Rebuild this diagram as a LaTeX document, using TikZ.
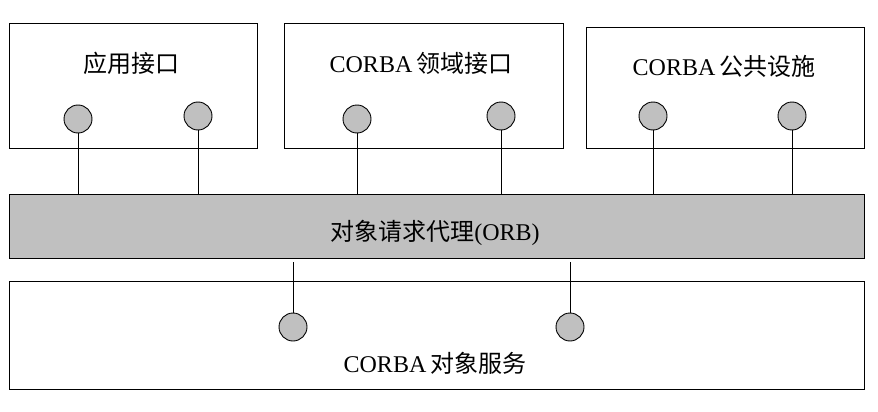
\documentclass[tikz,border=0pt]{standalone}
\usepackage{fontspec}
\setmainfont{Liberation Serif}
\newfontfamily\cjk{Noto Sans CJK SC}
\usetikzlibrary{calc}
\definecolor{portgray}{HTML}{C0C0C0}

\tikzset{
  layer/.style={draw, line width=1pt, inner sep=0pt},
  port/.style={circle, draw, line width=0.9pt, fill=portgray, inner sep=0pt, minimum size=28pt},
  caption/.style={font=\fontsize{24}{26}\selectfont, inner sep=0pt},
}

\begin{document}
\begin{tikzpicture}[x=1pt, y=-1pt]
    \useasboundingbox (0,0) rectangle (878,412);

    % upper boxes
    \node[layer, minimum width=248pt, minimum height=124pt] (app) at (133,86) {};
    \node[layer, minimum width=279pt, minimum height=124pt] (dom) at (423.5,86) {};
    \node[layer, minimum width=278pt, minimum height=120pt] (fac) at (725,88) {};
    \node[caption] (appt) at (131,63) {\cjk 应用接口};
    \node[caption] (domt) at (421,63) {CORBA\,{\cjk 领域接口}};
    \node[caption] (fact) at (724,66) {CORBA\,{\cjk 公共设施}};

    % bus and services
    \node[layer, fill=portgray, minimum width=855pt, minimum height=64pt] (orb) at (436.5,226) {};
    \node[caption] (orbt) at (435,233) {{\cjk 对象请求代理}(ORB)};
    \node[layer, minimum width=855pt, minimum height=108pt] (svc) at (436.5,335) {};
    \node[caption] (svct) at (435,363) {CORBA\,{\cjk 对象服务}};

    % ports
    \node[port] (p1) at (78,119) {};
    \node[port] (p2) at (198,116) {};
    \node[port] (p3) at (357,119) {};
    \node[port] (p4) at (501,116) {};
    \node[port] (p5) at (653,116) {};
    \node[port] (p6) at (792,116) {};
    \node[port] (q1) at (293,327) {};
    \node[port] (q2) at (570,327) {};
    \coordinate (q1top) at (293,262);
    \coordinate (q2top) at (570,262);

    \foreach \p in {p1, p2, p3, p4, p5, p6}
        \draw[line width=1pt] (\p) -- (\p |- orb.north);
    \draw[line width=1pt] (q1top) -- (q1);
    \draw[line width=1pt] (q2top) -- (q2);
  \end{tikzpicture}
\end{document}
